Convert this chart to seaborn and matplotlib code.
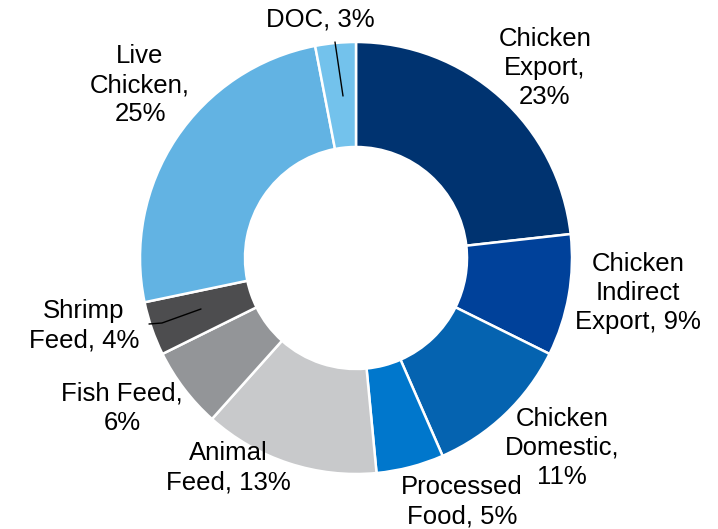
import matplotlib
matplotlib.use("Agg")
import matplotlib.pyplot as plt
import seaborn as sns

# data (clockwise from 12 o'clock)
categories = ["Chicken Export", "Chicken Indirect Export", "Chicken Domestic",
              "Processed Food", "Animal Feed", "Fish Feed", "Shrimp Feed",
              "Live Chicken", "DOC"]
shares = [23, 9, 11, 5, 13, 6, 4, 25, 3]
label_text = ["Chicken\nExport,\n{}%", "Chicken\nIndirect\nExport, {}%",
              "Chicken\nDomestic,\n{}%", "Processed\nFood, {}%",
              "Animal\nFeed, {}%", "Fish Feed,\n{}%", "Shrimp\nFeed, {}%",
              "Live\nChicken,\n{}%", "DOC, {}%"]
colors = ["#003370", "#00419a", "#0563b0", "#0077cc", "#c8c9cb",
          "#939598", "#4d4d4f", "#62b3e3", "#73c2ec"]

# label anchor positions in pixels (x, y from top)
label_pos = [(545, 68), (638, 293), (562, 448), (462, 502), (228, 468),
             (122, 408), (84, 326), (140, 85), (320, 20)]

sns.set_theme(style="white")
plt.rcParams["font.family"] = ["Liberation Sans", "DejaVu Sans"]

W, H = 718, 529
fig = plt.figure(figsize=(W / 100, H / 100), dpi=100)
ax = fig.add_axes([0, 0, 1, 1])

cx, cy, r_out, r_in = 356, H - 258, 216, 111
ax.pie(shares, colors=colors, startangle=90, counterclock=False,
       center=(cx, cy), radius=r_out, frame=True,
       wedgeprops=dict(width=r_out - r_in, edgecolor="white", linewidth=1.8))
ax.set_xlim(0, W)
ax.set_ylim(0, H)
ax.set_aspect("equal")
ax.axis("off")

for txt, v, (px, py) in zip(label_text, shares, label_pos):
    ax.text(px, H - py, txt.format(v), ha="center", va="center",
            fontsize=18.5, color="black", linespacing=1.28)

# leader lines for the two small slices
ax.plot([335, 343], [H - 42, H - 96], color="black", lw=1)
ax.plot([149, 162, 201], [H - 324, H - 323, H - 309], color="black", lw=1)

fig.savefig("out.png", dpi=100)
